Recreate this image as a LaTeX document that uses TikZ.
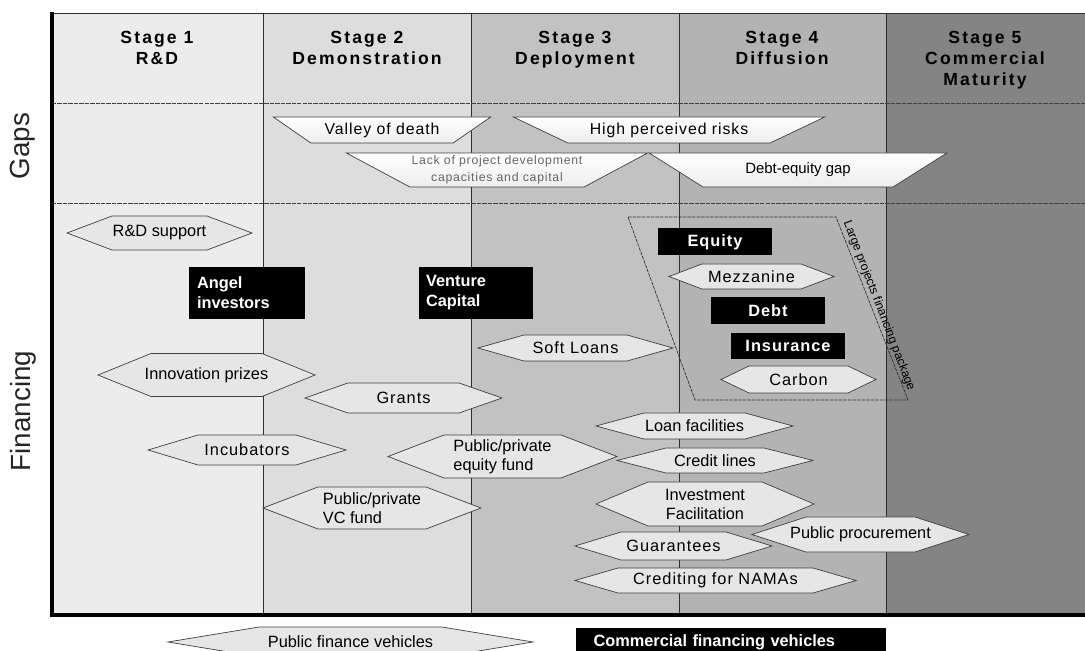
\documentclass[tikz,border=0pt]{standalone}
\usepackage{fontspec}
\setmainfont{Liberation Sans}
\newfontfamily\wide[LetterSpace=12]{Liberation Sans}
\newfontfamily\loose[LetterSpace=6]{Liberation Sans}
\usepackage{tikz}
\usetikzlibrary{shapes.geometric,positioning,calc}
\definecolor{stageA}{RGB}{236,236,236}
\definecolor{stageB}{RGB}{221,221,221}
\definecolor{stageC}{RGB}{194,194,194}
\definecolor{stageD}{RGB}{179,179,179}
\definecolor{stageE}{RGB}{132,132,132}
\definecolor{hexfill}{RGB}{230,230,230}
\definecolor{rulegray}{RGB}{45,45,45}

% hexagon: [text options]{name}{x}{y}{half width}{half height}{indent}
\newcommand\vehicle[7][]{%
  \filldraw[hexline] (#3-#5,#4) -- (#3-#5+#7,#4-#6) -- (#3+#5-#7,#4-#6) -- (#3+#5,#4)
      -- (#3+#5-#7,#4+#6) -- (#3-#5+#7,#4+#6) -- cycle;
  \node[hextext,#1] (#2) at (#3,#4)}

\begin{document}
\begin{tikzpicture}[
    x=0.02cm, y=-0.02cm,
    header/.style={anchor=north, align=center, inner sep=0pt, text=black, font=\wide\bfseries\fontsize{10}{12}\selectfont},
    axislabel/.style={rotate=90, inner sep=0pt, text=black!85, font=\fontsize{15.8}{18}\selectfont},
    hexline/.style={draw=black!75, fill=hexfill},
    hextext/.style={inner sep=0pt, align=center, font=\fontsize{9.3}{10.8}\selectfont},
    spaced/.style={font=\loose\fontsize{9.3}{10.8}\selectfont},
    blackbox/.style={rectangle, fill=black, text=white, inner sep=0pt, align=center, font=\bfseries\fontsize{9.3}{11.3}\selectfont},
    gapbox/.style={trapezium, shape border rotate=180, trapezium stretches=true, draw=black!75, top color=white, bottom color=black!7, inner sep=0pt, align=center, font=\loose\fontsize{9}{11}\selectfont},
    sepline/.style={black!75, dash pattern=on 2.5pt off 0.6pt}
]
    \useasboundingbox (0,0) rectangle (1085,651);

    % stage columns
    \foreach \xa/\xb/\col in {52/263/stageA, 263/471/stageB, 471/679/stageC, 679/886/stageD, 886/1085/stageE}
        \fill[\col] (\xa,13) rectangle (\xb,615);
    \foreach \xa in {263,471,679,886}
        \draw[rulegray] (\xa,13) -- (\xa,615);
    \draw[sepline] (52,103) -- (1085,103);
    \draw[sepline] (52,203) -- (1085,203);
    \draw[rulegray] (52,13) -- (1085,13);
    \draw[line width=2.2pt] (52,12) -- (52,615) -- (1085,615);

    % stage headers
    \node[header] (stA) at (157,31) {Stage 1\\R\&D};
    \node[header] (stB) at (367,31) {Stage 2\\Demonstration};
    \node[header] (stC) at (575,31) {Stage 3\\Deployment};
    \node[header] (stD) at (782,31) {Stage 4\\Diffusion};
    \node[header] (stE) at (985,31) {Stage 5\\Commercial\\Maturity};

    \node[axislabel] (gaps) at (23,146) {Gaps};
    \node[axislabel] (financing) at (23,411) {Financing};

    % gaps
    \node[gapbox, minimum width=4.36cm, minimum height=0.52cm, trapezium angle=26] (valley) at (382,130) {Valley of death};
    \node[gapbox, minimum width=6.24cm, minimum height=0.52cm, trapezium angle=19] (risks) at (669,130) {High perceived risks};
    \node[gapbox, minimum width=6.04cm, minimum height=0.68cm, trapezium angle=25, text=black!60,
        font=\loose\fontsize{7}{10}\selectfont] (lackcap) at (497,170) {Lack of project development\\capacities and capital};
    \node[gapbox, minimum width=5.98cm, minimum height=0.68cm, trapezium angle=25,
        font=\fontsize{8.5}{10}\selectfont] (debtgap) at (798,170) {Debt-equity gap};

    % large projects financing package
    \coordinate (lpA) at (628,217);
    \coordinate (lpB) at (836,217);
    \coordinate (lpC) at (908,400);
    \coordinate (lpD) at (695,400);
    \draw[black!80, dash pattern=on 2pt off 0.6pt] (lpA) -- (lpB) -- (lpC) -- (lpD) -- cycle;
    \node[rotate=-69, inner sep=0pt, font=\fontsize{7}{8}\selectfont] (lplabel) at (879,306) {Large projects financing package};

    % financing vehicles
    \vehicle{rdsupport}{159.5}{233}{92.5}{17}{45} {R\&D support};
    \node[blackbox, minimum width=2.32cm, minimum height=1.06cm, text width=2.0cm, align=left] (angel) at (247,293) {Angel\\investors};
    \node[blackbox, minimum width=2.3cm, minimum height=1.06cm, text width=2.0cm, align=left] (venture) at (476,293) {Venture\\Capital};
    \vehicle{innovation}{206.5}{375}{108.5}{21.5}{53} {Innovation prizes};
    \vehicle[spaced]{grants}{403.5}{398}{98.5}{15}{43} {Grants};
    \vehicle[spaced]{incubators}{247}{450}{99}{15}{50} {Incubators};
    \vehicle[align=left]{equityfund}{502.5}{456.5}{114.5}{21.5}{56} {Public/private\\equity fund};
    \vehicle[align=left]{vcfund}{372}{508}{109}{21}{55} {Public/private\\VC fund};
    \vehicle[spaced]{softloans}{575.5}{348}{97.5}{13}{46} {Soft Loans};

    \node[blackbox, minimum width=2.3cm, minimum height=0.54cm, font=\loose\bfseries\fontsize{9.3}{11}\selectfont] (equity) at (715,242) {Equity};
    \vehicle[spaced]{mezzanine}{751.5}{276.5}{82.5}{12.5}{33} {Mezzanine};
    \node[blackbox, minimum width=2.3cm, minimum height=0.54cm, font=\loose\bfseries\fontsize{9.3}{11}\selectfont] (debt) at (768,311) {Debt};
    \node[blackbox, minimum width=2.28cm, minimum height=0.52cm, font=\loose\bfseries\fontsize{9.3}{11}\selectfont] (insurance) at (788,346) {Insurance};
    \vehicle[spaced]{carbon}{798.5}{379.5}{77.5}{13.5}{28} {Carbon};

    \vehicle{loanfac}{694.5}{426}{98.5}{13}{48} {Loan facilities};
    \vehicle{creditlines}{715}{460.5}{98}{12.5}{49} {Credit lines};
    \vehicle{investfac}{705}{504}{109}{22}{52} {Investment\\Facilitation};
    \vehicle{procurement}{860.5}{534.5}{108.5}{17.5}{54} {Public procurement};
    \vehicle[spaced]{guarantees}{673.5}{546}{98.5}{14}{46} {Guarantees};
    \vehicle[spaced]{namas}{715.5}{580.5}{140.5}{12.5}{43} {Crediting for NAMAs};

    % legend
    \vehicle{publicfin}{350.5}{642}{182.5}{15}{91} {Public finance vehicles};
    \node[blackbox, minimum width=6.22cm, minimum height=0.56cm, text width=5.5cm, align=left] (commercial) at (731,642) {Commercial financing vehicles};
\end{tikzpicture}
\end{document}
